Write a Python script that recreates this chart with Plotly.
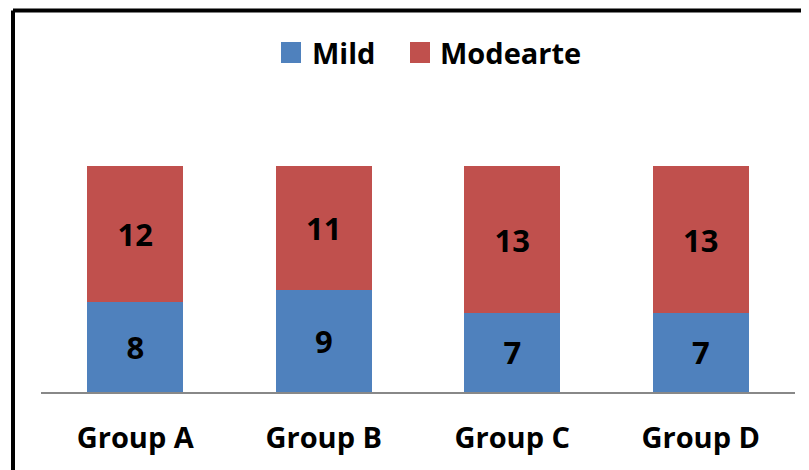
import plotly.graph_objects as go

categories = ["Group A", "Group B", "Group C", "Group D"]
mild = [8, 9, 7, 7]
moderate = [12, 11, 13, 13]
series_names = ["Mild", "Modearte"]
colors = ["#4F81BD", "#C0504D"]

FONT = "Open Sans"
OFF = 8  # page body margin
W, H = 809 - OFF, 470 - OFF
L, R, T, B = 41 - OFF, 14, 121 - OFF, 78
plot_w = W - L - R
plot_h = H - T - B

def px_x(px):
    return (px - OFF - L) / plot_w

def px_y(py):
    return (H - B - (py - OFF)) / plot_h

fig = go.Figure()
for name, vals, col in zip(series_names, [mild, moderate], colors):
    fig.add_trace(go.Bar(
        x=categories, y=vals, name=name,
        marker=dict(color=col, line=dict(width=0)),
        text=[str(v) for v in vals],
        textposition="inside", insidetextanchor="middle",
        textfont=dict(family=FONT, size=31, color="black", weight="bold"),
        showlegend=False,
    ))

shapes = [
    dict(type="line", xref="paper", yref="paper",
         x0=px_x(13), x1=px_x(830), y0=px_y(10.5), y1=px_y(10.5),
         line=dict(color="black", width=4)),
    dict(type="line", xref="paper", yref="paper",
         x0=px_x(13), x1=px_x(13), y0=px_y(10.5), y1=px_y(490),
         line=dict(color="black", width=4)),
]
annotations = []
leg_sq = [(281, 301), (410, 430)]
leg_txt = [310, 438]
for (x0, x1), tx, name, col in zip(leg_sq, leg_txt, series_names, colors):
    shapes.append(dict(type="rect", xref="paper", yref="paper",
                       x0=px_x(x0), x1=px_x(x1), y0=px_y(63), y1=px_y(42),
                       fillcolor=col, line=dict(width=0)))
    annotations.append(dict(xref="paper", yref="paper", x=px_x(tx), y=px_y(52.5),
                            xanchor="left", yanchor="middle", showarrow=False,
                            text=name, font=dict(family=FONT, size=29, color="black", weight="bold")))

fig.update_layout(
    width=W, height=H,
    margin=dict(l=L, r=R, t=T, b=B),
    barmode="stack", bargap=0.49,
    paper_bgcolor="white", plot_bgcolor="white",
    shapes=shapes, annotations=annotations,
    xaxis=dict(showline=True, linecolor="#888888", linewidth=2,
               tickfont=dict(family=FONT, size=29, color="black", weight="bold"),
               ticks="", ticklabelstandoff=19, showgrid=False, zeroline=False),
    yaxis=dict(range=[0, 24], visible=False, showgrid=False, zeroline=False),
)
fig.write_html("out.html")
